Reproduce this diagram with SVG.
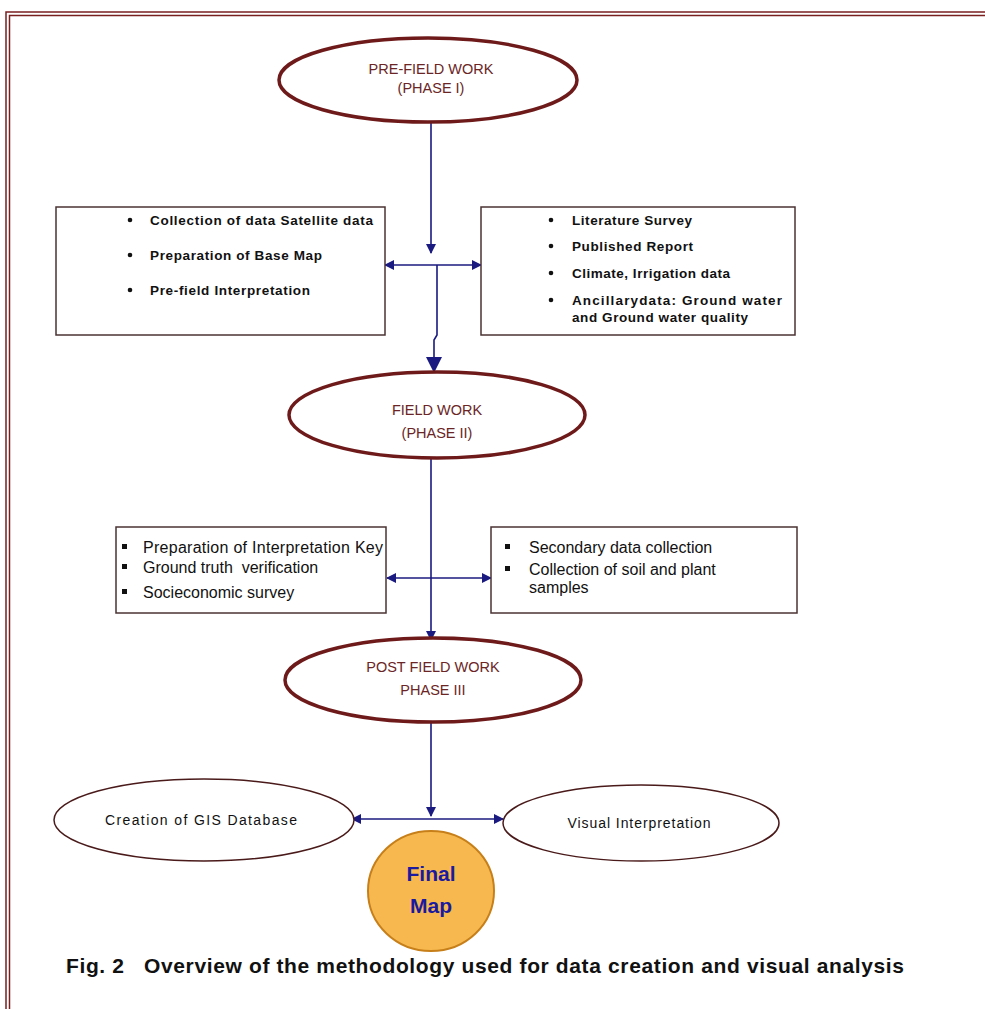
<svg xmlns="http://www.w3.org/2000/svg" width="985" height="1009" viewBox="0 0 985 1009">
<defs>
<style>
.bd{fill:none;stroke:#7a1f1f;stroke-width:1.5}
.ph{fill:#fff;stroke:#6e1a1a;stroke-width:3.5}
.th{fill:#fff;stroke:#4a1a1a;stroke-width:1.5}
.bx{fill:#fff;stroke:#4b3232;stroke-width:1.5}
.cn{fill:none;stroke:#1a1a80;stroke-width:1.6}
.pt{font-family:"Liberation Sans",Arial,sans-serif;font-size:14.5px;fill:#6b2525;text-anchor:middle}
.bt{font-family:"Liberation Sans",Arial,sans-serif;font-size:13.5px;fill:#111;font-weight:bold}
.b2{font-family:"Liberation Sans",Arial,sans-serif;font-size:16px;fill:#111}
.et{font-family:"Liberation Sans",Arial,sans-serif;font-size:14px;fill:#111;text-anchor:middle}
</style>
<marker id="ah" markerWidth="10" markerHeight="10" refX="9" refY="5" orient="auto" markerUnits="userSpaceOnUse">
<path d="M0,0 L10,5 L0,10 z" fill="#1a1a80"/>
</marker>
<marker id="ahs" markerWidth="10" markerHeight="10" refX="9" refY="5" orient="auto-start-reverse" markerUnits="userSpaceOnUse">
<path d="M0,0 L10,5 L0,10 z" fill="#1a1a80"/>
</marker>
<marker id="ahb" markerWidth="16" markerHeight="16" refX="15" refY="8" orient="auto" markerUnits="userSpaceOnUse">
<path d="M0,0 L16,8 L0,16 z" fill="#1a1a80"/>
</marker>
</defs>
<rect width="985" height="1009" fill="#fff"/>
<g id="border">
<path class="bd" d="M6,1009 V12 H985"/>
<path class="bd" d="M9.5,1009 V15.5 H985"/>
</g>
<g id="connectors">
<line class="cn" x1="431" y1="123" x2="431" y2="253" marker-end="url(#ah)"/>
<line class="cn" x1="385" y1="265" x2="481" y2="265" marker-start="url(#ahs)" marker-end="url(#ah)"/>
<polyline class="cn" points="437,265 437,335 434,340 434,372" marker-end="url(#ahb)"/>
<line class="cn" x1="431" y1="458" x2="431" y2="640" marker-end="url(#ah)"/>
<line class="cn" x1="387" y1="578" x2="491" y2="578" marker-start="url(#ahs)" marker-end="url(#ah)"/>
<line class="cn" x1="431" y1="722" x2="431" y2="816" marker-end="url(#ah)"/>
<line class="cn" x1="352" y1="819" x2="503" y2="819" marker-start="url(#ahs)" marker-end="url(#ah)"/>
</g>
<g id="n-prefield">
<ellipse class="ph" cx="428" cy="80" rx="149" ry="42"/>
<text class="pt" x="431" y="74">PRE-FIELD WORK</text>
<text class="pt" x="431" y="93">(PHASE I)</text>
</g>
<g id="n-box1l">
<rect class="bx" x="56" y="207" width="329" height="128"/>
<circle cx="130" cy="220" r="2.3" fill="#111"/><text class="bt" x="150" y="225" textLength="223" lengthAdjust="spacing">Collection of data Satellite data</text>
<circle cx="130" cy="255" r="2.3" fill="#111"/><text class="bt" x="150" y="260" textLength="172" lengthAdjust="spacing">Preparation of Base Map</text>
<circle cx="130" cy="290" r="2.3" fill="#111"/><text class="bt" x="150" y="295" textLength="160" lengthAdjust="spacing">Pre-field Interpretation</text>
</g>
<g id="n-box1r">
<rect class="bx" x="481" y="207" width="314" height="128"/>
<circle cx="551" cy="220" r="2.3" fill="#111"/><text class="bt" x="572" y="225" textLength="120" lengthAdjust="spacing">Literature Survey</text>
<circle cx="551" cy="246" r="2.3" fill="#111"/><text class="bt" x="572" y="251" textLength="121" lengthAdjust="spacing">Published Report</text>
<circle cx="551" cy="273" r="2.3" fill="#111"/><text class="bt" x="572" y="278" textLength="158" lengthAdjust="spacing">Climate, Irrigation data</text>
<circle cx="551" cy="300" r="2.3" fill="#111"/><text class="bt" x="572" y="305" textLength="210" lengthAdjust="spacing">Ancillarydata: Ground water</text>
<text class="bt" x="572" y="322" textLength="176" lengthAdjust="spacing">and Ground water quality</text>
</g>
<g id="n-field">
<ellipse class="ph" cx="437" cy="415" rx="148" ry="43"/>
<text class="pt" x="437" y="415">FIELD WORK</text>
<text class="pt" x="437" y="438">(PHASE II)</text>
</g>
<g id="n-box2l">
<rect class="bx" x="116" y="527" width="270" height="86"/>
<rect x="122" y="544" width="5" height="5" fill="#111"/><text class="b2" x="143" y="553" textLength="240" lengthAdjust="spacing">Preparation of Interpretation Key</text>
<rect x="122" y="564" width="5" height="5" fill="#111"/><text class="b2" x="143" y="573" xml:space="preserve">Ground truth  verification</text>
<rect x="122" y="589" width="5" height="5" fill="#111"/><text class="b2" x="143" y="598">Socieconomic survey</text>
</g>
<g id="n-box2r">
<rect class="bx" x="491" y="527" width="306" height="86"/>
<rect x="505" y="544" width="5" height="5" fill="#111"/><text class="b2" x="529" y="553">Secondary data collection</text>
<rect x="505" y="566" width="5" height="5" fill="#111"/><text class="b2" x="529" y="575">Collection of soil and plant</text>
<text class="b2" x="529" y="593">samples</text>
</g>
<g id="n-post">
<ellipse class="ph" cx="433" cy="680" rx="148" ry="42"/>
<text class="pt" x="433" y="672">POST FIELD WORK</text>
<text class="pt" x="433" y="695">PHASE III</text>
</g>
<g id="n-gis">
<ellipse class="th" cx="204" cy="820" rx="150" ry="41"/>
<text class="et" x="201" y="825" textLength="192" lengthAdjust="spacing">Creation of GIS Database</text>
</g>
<g id="n-visual">
<ellipse class="th" cx="641" cy="823" rx="138" ry="38"/>
<text class="et" x="639" y="828" textLength="143" lengthAdjust="spacing">Visual Interpretation</text>
</g>
<g id="n-final">
<ellipse cx="431" cy="891" rx="63" ry="60" fill="#f7b94f" stroke="#c77f1a" stroke-width="2"/>
<text x="431" y="881" font-family="Liberation Sans,Arial,sans-serif" font-size="21" font-weight="bold" fill="#1a1aa0" text-anchor="middle">Final</text>
<text x="431" y="913" font-family="Liberation Sans,Arial,sans-serif" font-size="21" font-weight="bold" fill="#1a1aa0" text-anchor="middle">Map</text>
</g>
<g id="caption">
<text x="66" y="973" font-family="Liberation Sans,Arial,sans-serif" font-size="21" font-weight="bold" fill="#111" textLength="838" lengthAdjust="spacing" xml:space="preserve">Fig. 2   Overview of the methodology used for data creation and visual analysis</text>
</g>
</svg>
